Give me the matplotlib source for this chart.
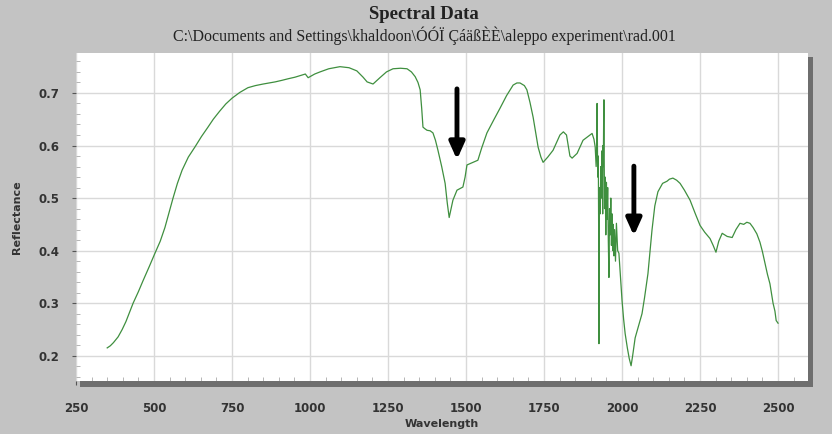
import matplotlib.pyplot as plt
from matplotlib.patches import Rectangle

# spectrum (wavelength in nm, reflectance)
wavelength = [350, 360, 370, 385, 398, 410, 422, 433, 450, 465, 485, 503, 520, 535, 548, 561, 575, 590, 610, 631,
              652, 673, 690, 710, 730, 750, 775, 801, 825, 850, 870, 888, 910, 930, 952, 974, 985,
              994, 1000, 1015, 1032, 1060, 1096, 1125, 1150, 1170, 1183, 1202, 1224, 1245, 1266, 1290, 1311, 1325,
              1337, 1346, 1353, 1358, 1362, 1368, 1375, 1385, 1394, 1402, 1410, 1422, 1433, 1440, 1446, 1452, 1458,
              1471, 1490, 1497, 1503, 1522, 1538, 1550, 1567, 1590, 1609, 1630, 1651, 1663, 1673, 1687, 1695, 1705,
              1715, 1731, 1740, 1747, 1762, 1779, 1801, 1812, 1822, 1833, 1840, 1856, 1865, 1875, 1897, 1904, 1910,
              1914,
              1916, 1917, 1919, 1920, 1921, 1922, 1924, 1925, 1926, 1927, 1928, 1930, 1932, 1934, 1936, 1938, 1939,
              1940, 1941, 1942, 1943, 1944, 1946, 1948, 1950, 1952, 1954, 1956, 1958, 1960, 1962, 1964, 1966, 1968,
              1970, 1972, 1974, 1976, 1979, 1982, 1986, 1990, 1994, 2000, 2005, 2010, 2017, 2023, 2029, 2034, 2042,
              2052, 2064, 2072, 2083, 2090, 2096, 2105, 2115, 2130, 2144, 2152, 2163, 2175, 2186, 2200, 2218, 2235,
              2250, 2265, 2282, 2292, 2301, 2310, 2321, 2337, 2353, 2365, 2378, 2390, 2400, 2410, 2420, 2432, 2442,
              2450, 2458, 2466, 2474, 2484, 2490, 2494, 2500]
reflectance = [0.215, 0.219, 0.225, 0.236, 0.250, 0.265, 0.283, 0.300, 0.322, 0.343, 0.370, 0.395, 0.418, 0.444,
               0.472, 0.500, 0.528, 0.553, 0.578, 0.597, 0.617, 0.635, 0.650, 0.665, 0.679, 0.690, 0.701, 0.710,
               0.714, 0.717, 0.719, 0.721, 0.724, 0.727, 0.730, 0.734, 0.736,
               0.729, 0.731, 0.736, 0.740, 0.746, 0.750, 0.748, 0.742, 0.730, 0.721, 0.717, 0.729, 0.740, 0.746,
               0.747, 0.746, 0.740, 0.731, 0.720, 0.706, 0.670, 0.635, 0.632, 0.629, 0.628, 0.624, 0.610, 0.591,
               0.560, 0.528, 0.490, 0.463, 0.480, 0.496, 0.515, 0.521, 0.540, 0.563, 0.568, 0.572, 0.595, 0.624,
               0.650, 0.671, 0.695, 0.715, 0.719, 0.719, 0.714, 0.706, 0.682, 0.654, 0.597, 0.578, 0.568, 0.578,
               0.591, 0.620, 0.626, 0.620, 0.580, 0.576, 0.585, 0.597, 0.610, 0.620, 0.623, 0.612, 0.597,
               0.570, 0.560, 0.600, 0.680, 0.600, 0.540, 0.580, 0.450, 0.223, 0.450, 0.520, 0.470, 0.560, 0.500,
               0.590, 0.470, 0.600, 0.560, 0.640, 0.687, 0.560, 0.480, 0.540, 0.430, 0.530, 0.460, 0.520, 0.420,
               0.349, 0.480, 0.430, 0.500, 0.410, 0.470, 0.400, 0.450, 0.390, 0.440, 0.380, 0.452, 0.400, 0.395,
               0.360, 0.305, 0.270, 0.242, 0.215, 0.195, 0.181, 0.200, 0.234, 0.255, 0.280, 0.310, 0.356, 0.400,
               0.439, 0.485, 0.512, 0.528, 0.532, 0.536, 0.538, 0.534, 0.528, 0.515, 0.496, 0.470, 0.448, 0.435,
               0.423, 0.410, 0.397, 0.418, 0.433, 0.427, 0.425, 0.440, 0.452, 0.450, 0.454, 0.452, 0.444, 0.432,
               0.416, 0.398, 0.376, 0.355, 0.337, 0.300, 0.285, 0.267, 0.262]

# the two black arrows: x, top, tip
arrow_x = [1471, 2038]
arrow_top = [0.713, 0.566]
arrow_tip = [0.568, 0.423]

x_ticks = [250, 500, 750, 1000, 1250, 1500, 1750, 2000, 2250, 2500]
y_ticks = [0.2, 0.3, 0.4, 0.5, 0.6, 0.7]

bg = "#c3c3c3"
fig = plt.figure(figsize=(8.32, 4.34), dpi=100, facecolor=bg)
ax = fig.add_axes([76/832, 1-381/434, 732/832, 328/434])
ax.set_facecolor("white")

# 3d looking shadow right and below the plot
fig.patches.append(Rectangle((80/832, 1-387/434), 733/832, 6/434, transform=fig.transFigure,
                             facecolor="#6e6e6e", edgecolor="none", zorder=0))
fig.patches.append(Rectangle((808/832, 1-387/434), 5/832, 330/434, transform=fig.transFigure,
                             facecolor="#6e6e6e", edgecolor="none", zorder=0))

ax.plot(wavelength, reflectance, color="#3f8f3f", lw=0.9)

for x, top, tip in zip(arrow_x, arrow_top, arrow_tip):
    ax.annotate("", xy=(x, tip), xytext=(x, top),
                arrowprops=dict(arrowstyle="-|>,head_width=0.45,head_length=1.0", color="black", lw=3.5))

ax.set_xlim(250, 2596)
ax.set_ylim(0.152, 0.776)
ax.set_xticks(x_ticks)
ax.set_yticks(y_ticks)
ax.set_xticks(range(250, 2600, 50), minor=True)
ax.set_yticks([0.16 + 0.02*i for i in range(31)], minor=True)
ax.grid(True, which="major", color="#d9d9d9", lw=1)
ax.tick_params(axis="x", which="major", direction="out", length=3, color="#555555", labelsize=8.5,
               labelcolor="#333333", pad=12)
ax.tick_params(axis="y", which="major", direction="out", length=3, color="#555555", labelsize=8.5,
               labelcolor="#333333", pad=9)
ax.tick_params(which="minor", direction="in", length=3, color="#aaaaaa")
for s in ax.spines.values():
    s.set_visible(False)
for lab in ax.get_xticklabels() + ax.get_yticklabels():
    lab.set_fontweight("bold")

ax.set_xlabel("Wavelength", fontsize=8, fontweight="bold", color="#333333", labelpad=3)
ax.set_ylabel("Reflectance", fontsize=8, fontweight="bold", color="#333333", labelpad=12)

fig.text(0.51, 0.967, "Spectral Data", ha="center", va="center", family="Liberation Serif",
         fontsize=13.5, fontweight="bold", color="#222222")
fig.text(0.51, 0.918, "C:\\Documents and Settings\\khaldoon\\ÓÓÏ ÇáäßÈÈ\\aleppo experiment\\rad.001",
         ha="center", va="center", family="Liberation Serif", fontsize=11.5, color="#222222")

plt.savefig("out.png", dpi=100, facecolor=bg)
